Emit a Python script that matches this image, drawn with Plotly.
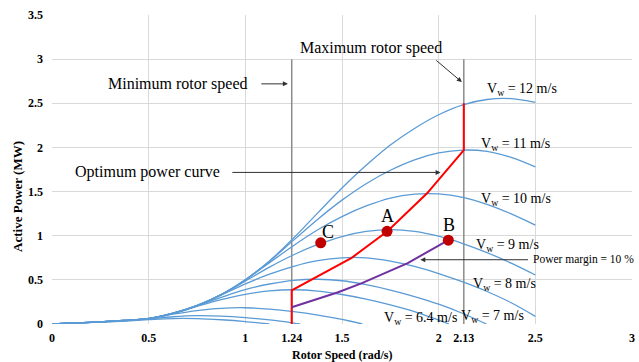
import plotly.graph_objects as go

# ---------------- data ----------------
omega = [0, 0.125, 0.25, 0.375, 0.5, 0.625, 0.75, 0.875, 1.0, 1.125, 1.25,
         1.375, 1.5, 1.625, 1.75, 1.875, 2.0, 2.125, 2.25, 2.375, 2.5]

p_v12 = [0, 0.012, 0.024, 0.04, 0.063, 0.123, 0.211, 0.333, 0.499, 0.714, 0.975,
         1.259, 1.540, 1.797, 2.027, 2.215, 2.370, 2.482, 2.543, 2.553, 2.511]
p_v11 = [0, 0.012, 0.024, 0.04, 0.063, 0.121, 0.208, 0.332, 0.501, 0.712, 0.950,
         1.187, 1.403, 1.589, 1.741, 1.860, 1.938, 1.970, 1.955, 1.887, 1.779]
p_v10 = [0, 0.012, 0.024, 0.04, 0.062, 0.122, 0.209, 0.332, 0.500, 0.695, 0.890,
         1.068, 1.217, 1.337, 1.427, 1.471, 1.474, 1.435, 1.355, 1.247, 1.120]
p_v9 = [0, 0.012, 0.024, 0.04, 0.062, 0.120, 0.209, 0.331, 0.486, 0.644, 0.784,
        0.901, 0.991, 1.048, 1.070, 1.050, 0.994, 0.911, 0.809, 0.689, 0.555]
p_v8 = [0, 0.012, 0.024, 0.04, 0.062, 0.119, 0.207, 0.328, 0.454, 0.564, 0.653,
        0.717, 0.750, 0.750, 0.713, 0.652, 0.571, 0.476, 0.368, 0.241, 0.087]
p_v7 = [0, 0.012, 0.024, 0.04, 0.062, 0.120, 0.205, 0.302, 0.390, 0.453, 0.495,
        0.507, 0.490, 0.445, 0.384, 0.310, 0.224, 0.119]
end_v7 = 2.247
p_v64 = [0, 0.012, 0.024, 0.04, 0.061, 0.118, 0.200, 0.276, 0.336, 0.375, 0.388,
         0.373, 0.334, 0.282, 0.217, 0.141, 0.044]
end_v64 = 2.054
p_v5 = [0, 0.012, 0.024, 0.039, 0.062, 0.111, 0.152, 0.178, 0.184, 0.169, 0.140,
        0.101, 0.052]
end_v5 = 1.605
p_v4 = [0, 0.012, 0.023, 0.036, 0.057, 0.082, 0.094, 0.089, 0.072, 0.046, 0.011]
end_v4 = 1.284
p_v35 = [0, 0.011, 0.022, 0.033, 0.049, 0.062, 0.061, 0.048, 0.028]
end_v35 = 1.124

opt_w = [1.24, 1.24, 1.55, 1.735, 1.94, 2.13, 2.13]
opt_p = [0, 0.38, 0.75, 1.05, 1.48, 1.97, 2.50]

margin_w = [1.24, 1.48, 1.60, 1.84, 2.05]
margin_p = [0.19, 0.36, 0.46, 0.69, 0.95]

pt_names = ["C", "A", "B"]
pt_w = [1.39, 1.733, 2.05]
pt_p = [0.92, 1.05, 0.95]
pt_label_w = [1.428, 1.734, 2.054]
pt_label_p = [1.037, 1.226, 1.117]

min_speed = 1.24
max_speed = 2.13
speed_line_top = 3.0

wind_labels = ["12", "11", "10", "9", "8", "7", "6.4"]
wind_label_w = [2.43, 2.395, 2.40, 2.355, 2.34, 2.28, 1.907]
wind_label_p = [2.66, 2.03, 1.415, 0.89, 0.445, 0.086, 0.057]

x_ticks = [0, 0.5, 1, 1.24, 1.5, 2, 2.13, 2.5, 3]
x_grid = [0, 0.5, 1, 1.5, 2, 2.5, 3]

# ---------------- figure ----------------
SERIF = "Liberation Serif"
BLUE = "#5B9BD5"

fig = go.Figure()

full_curves = [p_v12, p_v11, p_v10, p_v9, p_v8]
for p in full_curves:
    fig.add_trace(go.Scatter(x=omega, y=p, mode="lines",
                             line=dict(color=BLUE, width=1.3, shape="spline"),
                             showlegend=False, hoverinfo="skip"))

cut_curves = [(p_v7, end_v7), (p_v64, end_v64), (p_v5, end_v5),
              (p_v4, end_v4), (p_v35, end_v35)]
for p, e in cut_curves:
    fig.add_trace(go.Scatter(x=omega[:len(p)] + [e], y=p + [0], mode="lines",
                             line=dict(color=BLUE, width=1.3, shape="spline"),
                             showlegend=False, hoverinfo="skip"))

# gray rotor speed limits
for s in [min_speed, max_speed]:
    fig.add_shape(type="line", x0=s, x1=s, y0=0, y1=speed_line_top,
                  xref="x", yref="y", layer="between",
                  line=dict(color="#8C8C8C", width=1.5))

fig.add_trace(go.Scatter(x=opt_w, y=opt_p, mode="lines",
                         line=dict(color="#FF0000", width=2),
                         showlegend=False, hoverinfo="skip"))
fig.add_trace(go.Scatter(x=margin_w, y=margin_p, mode="lines",
                         line=dict(color="#7030A0", width=2),
                         showlegend=False, hoverinfo="skip"))
fig.add_trace(go.Scatter(x=pt_w, y=pt_p, mode="markers",
                         marker=dict(color="#C00000", size=11),
                         showlegend=False, hoverinfo="skip"))

ann = []
for n, xw, yp in zip(pt_names, pt_label_w, pt_label_p):
    ann.append(dict(x=xw, y=yp, text=n, showarrow=False,
                    xanchor="center", yanchor="middle",
                    font=dict(family=SERIF, size=18, color="black")))
for t, xw, yp in zip(wind_labels, wind_label_w, wind_label_p):
    ann.append(dict(x=xw, y=yp, text="V<sub>w</sub> = " + t + " m/s",
                    showarrow=False, xanchor="center", yanchor="middle",
                    font=dict(family=SERIF, size=14, color="black")))

ann.append(dict(x=0.652, y=2.72, text="Minimum rotor speed", showarrow=False,
                xanchor="center", yanchor="middle",
                font=dict(family=SERIF, size=16, color="black")))
ann.append(dict(x=1.22, y=2.72, ax=1.075, ay=2.72, axref="x", ayref="y",
                text="", showarrow=True, arrowhead=2, arrowsize=1,
                arrowwidth=1, arrowcolor="#303030"))
ann.append(dict(x=1.65, y=3.13, text="Maximum rotor speed", showarrow=False,
                xanchor="center", yanchor="middle",
                font=dict(family=SERIF, size=16, color="black")))
ann.append(dict(x=2.12, y=2.74, ax=1.98, ay=3.0, axref="x", ayref="y",
                text="", showarrow=True, arrowhead=2, arrowsize=1,
                arrowwidth=1, arrowcolor="#303030"))
ann.append(dict(x=0.495, y=1.725, text="Optimum power curve", showarrow=False,
                xanchor="center", yanchor="middle",
                font=dict(family=SERIF, size=16, color="black")))
ann.append(dict(x=2.01, y=1.717, ax=0.925, ay=1.717, axref="x", ayref="y",
                text="", showarrow=True, arrowhead=2, arrowsize=1,
                arrowwidth=1, arrowcolor="#303030"))
ann.append(dict(x=2.476, y=0.728, text="Power margin = 10 %", showarrow=False,
                xanchor="left", yanchor="middle",
                font=dict(family=SERIF, size=11.5, color="black")))
ann.append(dict(x=1.905, y=0.728, ax=2.47, ay=0.728, axref="x", ayref="y",
                text="", showarrow=True, arrowhead=2, arrowsize=1,
                arrowwidth=1, arrowcolor="#303030"))

# axis titles
ann.append(dict(x=0.5, y=-0.099, xref="paper", yref="paper",
                xanchor="center", yanchor="middle",
                text="<b>Rotor Speed (rad/s)</b>", showarrow=False,
                font=dict(family=SERIF, size=12, color="black")))
ann.append(dict(x=-0.06, y=0.412, xref="paper", yref="paper", textangle=-90,
                xanchor="center", yanchor="middle",
                text="<b>Active Power (MW)</b>", showarrow=False,
                font=dict(family=SERIF, size=13, color="black")))

fig.update_layout(
    width=639, height=362,
    margin=dict(l=52, r=4, t=15, b=38),
    paper_bgcolor="white", plot_bgcolor="white",
    annotations=ann,
    xaxis=dict(range=[0, 3], tickvals=x_ticks,
               ticktext=[f"{v:g}" for v in x_ticks],
               showgrid=False, zeroline=False, showline=False, ticks="",
               ticklabelstandoff=5,
               tickfont=dict(family=SERIF, size=12, color="black", weight="bold"),
               minor=dict(tickvals=x_grid, showgrid=True, gridcolor="#D9D9D9",
                          gridwidth=1, ticks=""),
               fixedrange=True),
    yaxis=dict(range=[0, 3.5], dtick=0.5, showgrid=True, gridcolor="#D9D9D9",
               gridwidth=1, zeroline=False, showline=False, ticks="",
               ticklabelstandoff=8,
               tickfont=dict(family=SERIF, size=12, color="black", weight="bold"),
               fixedrange=True),
)

fig.write_html("out.html")
